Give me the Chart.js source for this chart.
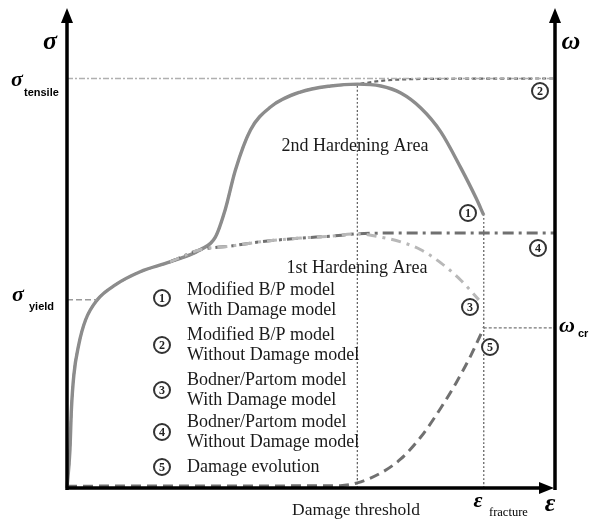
<!DOCTYPE html>
<html>
<head>
<meta charset="utf-8">
<script src="https://cdn.jsdelivr.net/npm/chart.js@4/dist/chart.umd.min.js"></script>
<style>
  body { margin: 0; background: #fff; }
  #wrap { width: 590px; height: 519px; }
</style>
</head>
<body>
<div id="wrap"><canvas id="myChart"></canvas></div>
<script>
// shared rise from origin through the yield knee
var commonStrain = [0, 0.6, 0.9, 1.4, 2.4, 3.8, 6.2, 9.9, 15.0, 21.1, 27.3];
var commonStress = [0, 8.1, 16.7, 24.1, 30.6, 35.9, 40.2, 43.4, 46.2, 48.3, 50.9];
// 2nd hardening up to the tensile peak
var hard2Strain = [30.4, 32.4, 34.5, 37.6, 41.7, 47.8, 54.0, 59.5];
var hard2Stress = [53.6, 59.4, 67.9, 76.5, 81.4, 84.6, 85.9, 86.3];
// (1) modified B/P with damage: softening tail
var tail1Strain = [64.3, 68.4, 72.5, 76.6, 80.7, 83.8, 85.4];
var tail1Stress = [85.9, 84.4, 81.2, 76.1, 68.4, 62.0, 58.3];
// (2) modified B/P without damage: flat tail
var tail2Strain = [64.3, 72.5, 100];
var tail2Stress = [87.0, 87.4, 87.5];
// 1st hardening (Bodner/Partom)
var hard1Strain = [33.5, 39.6, 47.8, 54.0, 59.5];
var hard1Stress = [51.7, 52.6, 53.4, 53.8, 54.3];
// (3) Bodner/Partom with damage
var tail3Strain = [64.3, 68.4, 72.5, 76.6, 80.7, 84.4];
var tail3Stress = [53.6, 52.6, 50.9, 48.1, 44.4, 40.2];
// (4) Bodner/Partom without damage
var tail4Strain = [68.4, 100];
var tail4Stress = [54.5, 54.5];
// (5) damage evolution
var damageStrain = [0, 56, 59.5, 64.3, 68.4, 72.5, 76.6, 79.7, 82.8, 85.4];
var damageOmega = [0.4, 0.5, 1.1, 3.2, 6.2, 10.9, 17.1, 22.4, 28.4, 34.2];

var sigmaTensile = 87.5;
var sigmaYield = 40.2;
var omegaCr = 34.2;
var epsThreshold = 59.5;
var epsFracture = 85.4;

var legendLines = [
  ["Modified B/P model", "With Damage model"],
  ["Modified B/P model", "Without Damage model"],
  ["Bodner/Partom model", "With Damage model"],
  ["Bodner/Partom model", "Without Damage model"],
  ["Damage evolution"]
];

function pts(xs, ys) {
  return xs.map(function (x, i) { return { x: x, y: ys[i] }; });
}
function join() {
  var out = [];
  for (var i = 0; i < arguments.length; i++) out = out.concat(arguments[i]);
  return out;
}

var common = pts(commonStrain, commonStress);
var hard2 = pts(hard2Strain, hard2Stress);
var hard1 = pts(hard1Strain, hard1Stress);

function line(data, color, width, dash, tension) {
  return {
    data: data, borderColor: color, borderWidth: width, borderDash: dash || [],
    showLine: true, pointRadius: 0, fill: false, tension: tension === undefined ? 0.4 : tension,
    cubicInterpolationMode: 'monotone'
  };
}

var datasets = [
  // reference lines
  line([{ x: 0, y: sigmaTensile }, { x: 100, y: sigmaTensile }], "#b0b0b0", 1.5, [6, 2, 2, 2], 0),
  line([{ x: 0, y: sigmaYield }, { x: commonStrain[6], y: sigmaYield }], "#9a9a9a", 1.5, [6, 3], 0),
  line([{ x: epsFracture, y: omegaCr }, { x: 100, y: omegaCr }], "#777", 1.2, [3, 2], 0),
  line([{ x: epsThreshold, y: 0 }, { x: epsThreshold, y: hard2Stress[hard2Stress.length - 1] }], "#666", 1.3, [2, 2], 0),
  line([{ x: epsFracture, y: 0 }, { x: epsFracture, y: tail1Stress[tail1Stress.length - 1] }], "#666", 1.3, [2, 2], 0),
  // (3) and (4)
  line(join(common.slice(-2), hard1, pts(tail3Strain, tail3Stress)), "#b8b8b8", 3, [10, 6, 3, 6]),
  line(join(common.slice(-2), hard1, pts(tail4Strain, tail4Stress)), "#707070", 3, [11, 5, 3, 5]),
  // (1) and (2)
  line(join(common, hard2, pts(tail1Strain, tail1Stress)), "#8c8c8c", 3.4),
  line(join(common, hard2, pts(tail2Strain, tail2Stress)), "#686868", 2.2, [4, 3]),
  // (5)
  line(pts(damageStrain, damageOmega), "#707070", 3, [10, 6])
];

var schematic = {
  id: 'schematic',
  afterDatasetsDraw: function (chart) {
    var ctx = chart.ctx, xs = chart.scales.x, ys = chart.scales.y;
    var x0 = xs.getPixelForValue(0), x1 = xs.getPixelForValue(100);
    var y0 = ys.getPixelForValue(0);
    var top = 8;
    ctx.save();
    ctx.strokeStyle = "#000"; ctx.fillStyle = "#000"; ctx.lineWidth = 3.5;
    ctx.setLineDash([]);
    ctx.beginPath();
    ctx.moveTo(x0, y0 + 2); ctx.lineTo(x0, top + 10);
    ctx.moveTo(x1, y0 + 2); ctx.lineTo(x1, top + 10);
    ctx.moveTo(x0 - 1, y0); ctx.lineTo(x1 - 10, y0);
    ctx.stroke();
    function head(tx, ty, dir) {
      ctx.beginPath();
      if (dir === 'up') { ctx.moveTo(tx, ty); ctx.lineTo(tx - 6, ty + 15); ctx.lineTo(tx + 6, ty + 15); }
      else { ctx.moveTo(tx, ty); ctx.lineTo(tx - 15, ty - 6); ctx.lineTo(tx - 15, ty + 6); }
      ctx.closePath(); ctx.fill();
    }
    head(x0, top, 'up'); head(x1, top, 'up'); head(x1 - 1, y0, 'right');

    // axis symbols
    ctx.font = "italic bold 26px 'Liberation Serif'";
    ctx.textAlign = "center"; ctx.textBaseline = "middle";
    ctx.fillText("σ", 50, 42);
    ctx.fillText("ω", 571, 42);
    ctx.fillText("ε", 550, 504);
    ctx.font = "italic bold 22px 'Liberation Serif'";
    ctx.fillText("σ", 17, 80);
    ctx.fillText("σ", 18, 295);
    ctx.fillText("ω", 567, 326);
    ctx.fillText("ε", 478, 501);
    ctx.font = "bold 11px 'Liberation Sans'";
    ctx.textAlign = "left";
    ctx.fillText("tensile", 24, 93);
    ctx.fillText("yield", 29, 307);
    ctx.fillText("cr", 578, 334);
    ctx.font = "12.5px 'Liberation Serif'";
    ctx.fillText("fracture", 489, 513);

    // area labels
    ctx.fillStyle = "#1a1a1a";
    ctx.font = "18px 'Liberation Serif'";
    ctx.textAlign = "center";
    ctx.fillText("2nd Hardening Area", 355, 146);
    ctx.fillText("1st Hardening Area", 357, 268);
    ctx.font = "17.5px 'Liberation Serif'";
    ctx.fillText("Damage threshold", 356, 510);

    // legend
    ctx.textAlign = "left";
    var rows = [[290, 310], [335, 355], [380, 400], [422, 442], [467]];
    var circY = [298, 345, 390, 432, 467];
    function circle(cx, cy, n) {
      ctx.save();
      ctx.beginPath(); ctx.arc(cx, cy, 8, 0, Math.PI * 2);
      ctx.fillStyle = "#fff"; ctx.fill();
      ctx.lineWidth = 2; ctx.strokeStyle = "#333"; ctx.stroke();
      ctx.fillStyle = "#222"; ctx.font = "bold 12px 'Liberation Serif'";
      ctx.textAlign = "center"; ctx.textBaseline = "middle";
      ctx.fillText(String(n), cx, cy + 1);
      ctx.restore();
    }
    legendLines.forEach(function (lines, i) {
      circle(162, circY[i], i + 1);
      lines.forEach(function (t, j) {
        ctx.fillStyle = "#1a1a1a"; ctx.font = "18px 'Liberation Serif'";
        ctx.fillText(t, 187, rows[i][j]);
      });
    });
    // curve markers
    circle(468, 213, 1);
    circle(540, 91, 2);
    circle(470, 307, 3);
    circle(538, 248, 4);
    circle(490, 347, 5);
    ctx.restore();
  }
};

window.onload = function () {
  var ctx = document.getElementById("myChart").getContext("2d");
  new Chart(ctx, {
    type: 'scatter',
    data: { datasets: datasets },
    options: {
      responsive: true,
      maintainAspectRatio: false,
      animation: false,
      layout: { padding: { left: 67, right: 35, top: 20, bottom: 31 } },
      plugins: { legend: { display: false }, tooltip: { enabled: false } },
      scales: {
        x: { type: 'linear', min: 0, max: 100, display: false },
        y: { type: 'linear', min: 0, max: 100, display: false }
      },
      clip: false
    },
    plugins: [schematic]
  });
};
</script>
</body>
</html>
